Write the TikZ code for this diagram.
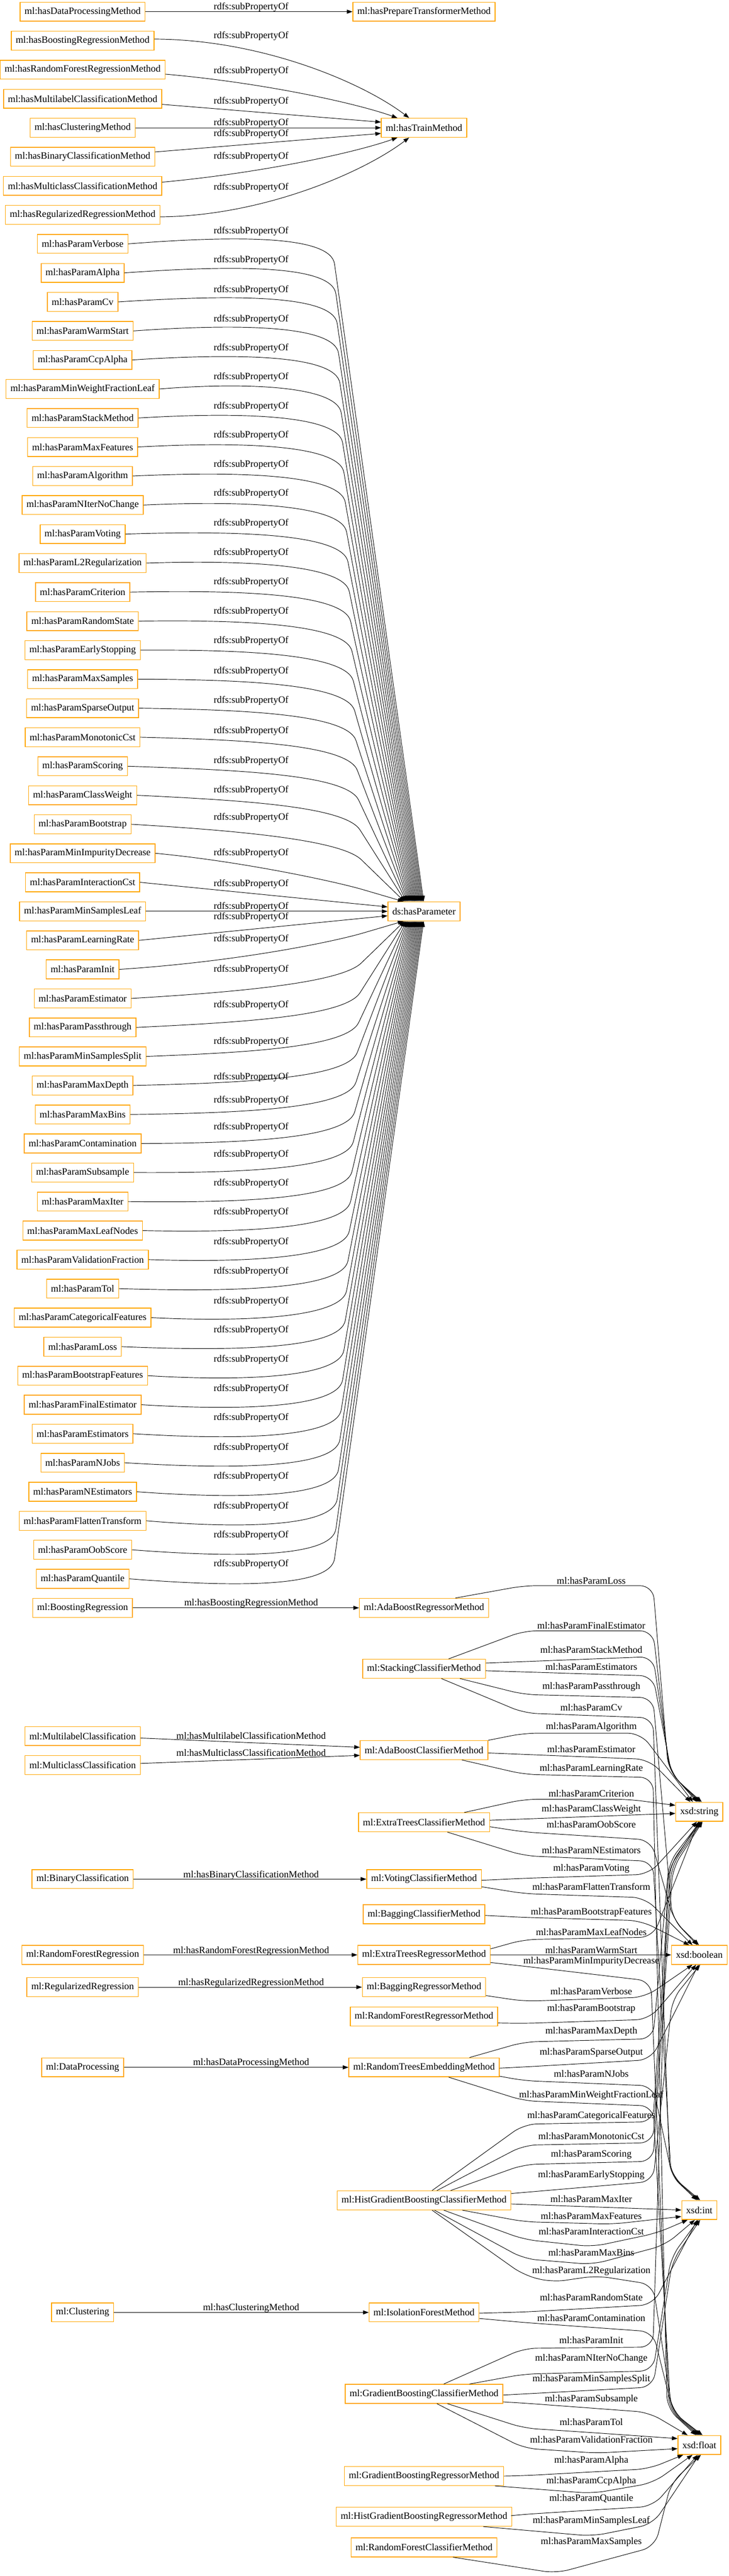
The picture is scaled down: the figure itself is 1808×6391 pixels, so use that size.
\documentclass[tikz,border=0pt]{standalone}
\usepackage{fontspec}
\setmainfont{Liberation Serif}
\usetikzlibrary{arrows.meta,calc}
\definecolor{gvorange}{HTML}{FFA500}
\tikzset{
  box/.style={draw=gvorange, line width=0.9pt, minimum height=23.5pt, inner xsep=5.5pt, inner ysep=2pt, font=\fontsize{12}{14}\selectfont},
  lbl/.style={inner sep=1pt, font=\fontsize{12}{14}\selectfont},
  edge/.style={line width=0.6pt, -{Triangle[length=7pt,width=5pt]}},
  dp/.style={edge, rounded corners=16pt},
}
\begin{document}
\begin{tikzpicture}[x=0.5pt,y=-0.5pt]
\useasboundingbox (0,0) rectangle (1808,6391);

% method properties
\node[box] (dpm) at (205,29) {ml:hasDataProcessingMethod};
\node[box] (ptm) at (1052,29) {ml:hasPrepareTransformerMethod};
\node[box] (brm) at (205,101) {ml:hasBoostingRegressionMethod};
\node[box] (rfm) at (205,173) {ml:hasRandomForestRegressionMethod};
\node[box] (mlm) at (205,245) {ml:hasMultilabelClassificationMethod};
\node[box] (clm) at (205,317) {ml:hasClusteringMethod};
\node[box] (bcm) at (205,389) {ml:hasBinaryClassificationMethod};
\node[box] (mcm) at (205,461) {ml:hasMulticlassClassificationMethod};
\node[box] (rrm) at (205,533) {ml:hasRegularizedRegressionMethod};
\node[box] (trm) at (1052,317) {ml:hasTrainMethod};
\node[box] (hp) at (1052,2261) {ds:hasParameter};

\draw[edge] (dpm) -- (ptm);
\node[lbl] (s0) at (623,18) {rdfs:subPropertyOf};
\draw[edge] ([yshift=2pt]brm.east) .. controls (650,98) and (900,205) .. ([xshift=-18.5pt]trm.north);
\node[lbl] (s1) at (623,89) {rdfs:subPropertyOf};
\draw[edge] ([yshift=-5.5pt]rfm.east) .. controls (650,205) and (880,255) .. ([xshift=-33pt]trm.north);
\node[lbl] (s2) at (623,176) {rdfs:subPropertyOf};
\draw[edge] ([yshift=-7pt]mlm.east) -- ([yshift=7pt]trm.west);
\node[lbl] (s3) at (623,252) {rdfs:subPropertyOf};
\draw[edge] (clm) -- (trm);
\node[lbl] (s4) at (623,306) {rdfs:subPropertyOf};
\draw[edge] ([yshift=6pt]bcm.east) -- ([yshift=-7pt]trm.west);
\node[lbl] (s5) at (623,332) {rdfs:subPropertyOf};
\draw[edge] ([yshift=4.5pt]mcm.east) .. controls (650,429) and (880,379) .. ([xshift=-33pt]trm.south);
\node[lbl] (s6) at (623,388) {rdfs:subPropertyOf};
\draw[edge] ([yshift=-2.5pt]rrm.east) .. controls (650,536) and (900,429) .. ([xshift=-18.5pt]trm.south);
\node[lbl] (s7) at (623,465) {rdfs:subPropertyOf};

% parameter properties
\foreach \r/\nm/\lo in {8/Verbose/-31, 9/Alpha/-31, 10/Cv/-29, 11/WarmStart/-29, 12/CcpAlpha/-29,
  13/MinWeightFractionLeaf/-29, 14/StackMethod/-29, 15/MaxFeatures/-29, 16/Algorithm/-28,
  17/NIterNoChange/-28, 18/Voting/-26, 19/L2Regularization/-26, 20/Criterion/-25, 21/RandomState/-24,
  22/EarlyStopping/-23, 23/MaxSamples/-20, 24/SparseOutput/-19, 25/MonotonicCst/-16, 26/Scoring/-13,
  27/ClassWeight/-12, 28/Bootstrap/-16, 29/MinImpurityDecrease/0, 30/InteractionCst/4,
  31/MinSamplesLeaf/-12, 32/LearningRate/-58, 33/Init/-75, 34/Estimator/-71, 35/Passthrough/-56,
  36/MinSamplesSplit/-37, 37/MaxDepth/-20, 38/MaxBins/-35, 39/Contamination/-41, 40/Subsample/-45,
  41/MaxIter/-45, 42/MaxLeafNodes/-45, 43/ValidationFraction/-44, 44/Tol/-43,
  45/CategoricalFeatures/-41, 46/Loss/-41, 47/BootstrapFeatures/-40, 48/FinalEstimator/-39,
  49/Estimators/-39, 50/NJobs/-37, 51/NEstimators/-38, 52/FlattenTransform/-36, 53/OobScore/-36,
  54/Quantile/-36}{
  \pgfmathsetmacro\yy{29+72*\r}
  \node[box] (p\r) at (205,\yy) {ml:hasParam\nm};
  \node[lbl] (s\r) at (623,{\yy+(\lo)}) {rdfs:subPropertyOf};
  \ifnum\r<30
    \pgfmathsetmacro\u{(29-\r)/21}
    \pgfmathsetmacro\dx{25*\u-25.5}
    \pgfmathsetmacro\cy{\yy-22*\u+20*(1-\u)^3}
    \coordinate (t) at ([xshift=\dx pt]hp.north);
    \coordinate (b) at ({900-70*\u},{\yy+90-40*\u});
    \draw[edge] (p\r.east) .. controls (600,\cy) and ($(b)!-35pt!(t)$) .. (b) -- (t);
  \else\ifnum\r>32
    \pgfmathsetmacro\u{(\r-33)/21}
    \pgfmathsetmacro\dx{25*\u-25.5}
    \pgfmathsetmacro\cy{\yy+22*\u-20*(1-\u)^3}
    \coordinate (t) at ([xshift=\dx pt]hp.south);
    \coordinate (b) at ({900-70*\u},{\yy-90+40*\u});
    \draw[edge] (p\r.east) .. controls (600,\cy) and ($(b)!-35pt!(t)$) .. (b) -- (t);
  \else
    \pgfmathsetmacro\sh{(31-\r)*5.5}
    \draw[edge] (p\r.east) -- ([yshift=\sh pt]hp.west);
  \fi\fi
}

% tasks and methods
\node[box] (boo) at (205,3989) {ml:BoostingRegression};
\node[box] (adar) at (1052,3989) {ml:AdaBoostRegressorMethod};
\node[box] (stk) at (1052,4140) {ml:StackingClassifierMethod};
\node[box] (mlc) at (205,4307) {ml:MultilabelClassification};
\node[box] (mcc) at (205,4379) {ml:MulticlassClassification};
\node[box] (adac) at (1052,4342) {ml:AdaBoostClassifierMethod};
\node[box] (etc) at (1052,4521) {ml:ExtraTreesClassifierMethod};
\node[box] (bin) at (205,4662) {ml:BinaryClassification};
\node[box] (vot) at (1052,4662) {ml:VotingClassifierMethod};
\node[box] (bagc) at (1052,4749) {ml:BaggingClassifierMethod};
\node[box] (rfreg) at (205,4850) {ml:RandomForestRegression};
\node[box] (etr) at (1052,4850) {ml:ExtraTreesRegressorMethod};
\node[box] (regr) at (205,4930) {ml:RegularizedRegression};
\node[box] (bagr) at (1052,4930) {ml:BaggingRegressorMethod};
\node[box] (rfr) at (1052,5003) {ml:RandomForestRegressorMethod};
\node[box] (dpr) at (205,5129) {ml:DataProcessing};
\node[box] (rte) at (1052,5129) {ml:RandomTreesEmbeddingMethod};
\node[box] (hgbc) at (1052,5459) {ml:HistGradientBoostingClassifierMethod};
\node[box] (clu) at (205,5737) {ml:Clustering};
\node[box] (ifo) at (1052,5737) {ml:IsolationForestMethod};
\node[box] (gbc) at (1052,5939) {ml:GradientBoostingClassifierMethod};
\node[box] (gbr) at (1052,6143) {ml:GradientBoostingRegressorMethod};
\node[box] (hgbr) at (1052,6244) {ml:HistGradientBoostingRegressorMethod};
\node[box] (rfc) at (1052,6320) {ml:RandomForestClassifierMethod};
\node[box] (str) at (1735,4495) {xsd:string};
\node[box] (bool) at (1735,4850) {xsd:boolean};
\node[box] (int) at (1735,5483) {xsd:int};
\node[box] (flt) at (1735,6066) {xsd:float};

\draw[edge] (boo) -- (adar);
\node[lbl] (m1) at (623,3978) {ml:hasBoostingRegressionMethod};
\draw[edge] ([yshift=-2.5pt]mlc.east) -- ([yshift=3.5pt]adac.west);
\node[lbl] (m2) at (623,4306) {ml:hasMultilabelClassificationMethod};
\draw[edge] ([yshift=2pt]mcc.east) -- ([yshift=-6.5pt]adac.west);
\node[lbl] (m3) at (623,4348) {ml:hasMulticlassClassificationMethod};
\draw[edge] (bin) -- (vot);
\node[lbl] (m4) at (623,4652) {ml:hasBinaryClassificationMethod};
\draw[edge] (rfreg) -- (etr);
\node[lbl] (m5) at (623,4840) {ml:hasRandomForestRegressionMethod};
\draw[edge] (regr) -- (bagr);
\node[lbl] (m6) at (623,4920) {ml:hasRegularizedRegressionMethod};
\draw[edge] (dpr) -- (rte);
\node[lbl] (m7) at (623,5118) {ml:hasDataProcessingMethod};
\draw[edge] (clu) -- (ifo);
\node[lbl] (m8) at (623,5726) {ml:hasClusteringMethod};

% to xsd:string
\draw[dp] ([xshift=39pt]adar.north) -- (1300,3934) -- (1620,3934) -- (1658,4390) -- ([xshift=-3pt]str.north);
\node[lbl] (lLoss) at (1467,3922) {ml:hasParamLoss};
\draw[dp] ([xshift=30.5pt]stk.north) -- (1300,4046) -- (1620,4046) -- (1661,4395) -- ([xshift=-1pt]str.north);
\node[lbl] (lFinalEstimator) at (1467,4033) {ml:hasParamFinalEstimator};
\draw[dp] ([yshift=7pt]stk.east) -- (1620,4110) -- (1664,4400) -- ([xshift=1pt]str.north);
\node[lbl] (lStackMethod) at (1467,4093) {ml:hasParamStackMethod};
\draw[dp] ([yshift=-2.5pt]stk.east) -- (1620,4158) -- (1667,4405) -- ([xshift=3pt]str.north);
\node[lbl] (lEstimators) at (1467,4135) {ml:hasParamEstimators};
\draw[dp] (adac.north east) -- (1300,4300) -- (1590,4300) -- ([xshift=-8pt]str.north);
\node[lbl] (lAlgorithm) at (1467,4285) {ml:hasParamAlgorithm};
\draw[dp] ([yshift=-3.5pt]adac.east) -- (1610,4365) -- ([xshift=-11pt]str.north);
\node[lbl] (lEstimator) at (1467,4340) {ml:hasParamEstimator};
\draw[dp] ([xshift=50pt]etc.north) -- (1300,4464) -- (1560,4464) -- ([yshift=8pt]str.west);
\node[lbl] (lCriterion) at (1467,4450) {ml:hasParamCriterion};
\draw[edge] ([yshift=2.5pt]etc.east) -- ([yshift=-2pt]str.west);
\node[lbl] (lClassWeight) at (1467,4489) {ml:hasParamClassWeight};
\draw[dp] ([yshift=-1.5pt]vot.east) -- (1300,4660) -- (1610,4650) -- ([xshift=-3pt]str.south);
\node[lbl] (lVoting) at (1467,4636) {ml:hasParamVoting};
\draw[dp] ([yshift=7.5pt]etr.east) -- (1300,4812) -- (1620,4806) -- ([xshift=-1pt]str.south);
\node[lbl] (lMaxLeafNodes) at (1467,4793) {ml:hasParamMaxLeafNodes};
\draw[dp] ([xshift=56.5pt]rte.north) -- (1300,5066) -- (1620,5058) -- (1660,4620) -- ([xshift=1pt]str.south);
\node[lbl] (lMaxDepth) at (1467,5040) {ml:hasParamMaxDepth};
\draw[dp] ([xshift=10pt]hgbc.north) -- (1300,5270) -- (1620,5264) -- (1663,4625) -- ([xshift=2pt]str.south);
\node[lbl] (lCategoricalFeatures) at (1467,5249) {ml:hasParamCategoricalFeatures};
\draw[dp] ([xshift=16pt]hgbc.north) -- (1300,5322) -- (1620,5316) -- (1666,4630) -- ([xshift=3pt]str.south);
\node[lbl] (lMonotonicCst) at (1467,5300) {ml:hasParamMonotonicCst};
\draw[dp] ([xshift=33pt]hgbc.north) -- (1300,5370) -- (1620,5362) -- (1669,4635) -- ([xshift=4pt]str.south);
\node[lbl] (lScoring) at (1467,5345) {ml:hasParamScoring};
\draw[dp] ([xshift=24.5pt]gbc.north) -- (1300,5826) -- (1620,5823) -- (1657,4640) -- (str.south);
\node[lbl] (lInit) at (1467,5806) {ml:hasParamInit};

% to xsd:boolean
\draw[dp] ([xshift=44.5pt]stk.south) -- (1300,4204) -- (1620,4212) -- (1668,4760) -- ([xshift=-2.5pt]bool.north);
\node[lbl] (lPassthrough) at (1467,4185) {ml:hasParamPassthrough};
\draw[dp] ([yshift=-5.5pt]etc.east) -- (1300,4545) -- (1615,4565) -- (1672,4765) -- ([xshift=-0.5pt]bool.north);
\node[lbl] (lOobScore) at (1467,4526) {ml:hasParamOobScore};
\draw[dp] ([yshift=-9.5pt]vot.east) -- (1300,4698) -- (1600,4708) -- ([xshift=-8.5pt]bool.north);
\node[lbl] (lFlattenTransform) at (1467,4681) {ml:hasParamFlattenTransform};
\draw[dp] ([yshift=-1.5pt]bagc.east) -- (1300,4757) -- (1590,4765) -- ([xshift=-12.5pt]bool.north);
\node[lbl] (lBootstrapFeatures) at (1467,4744) {ml:hasParamBootstrapFeatures};
\draw[edge] (etr.east) -- (bool.west);
\node[lbl] (lWarmStart) at (1467,4838) {ml:hasParamWarmStart};
\draw[dp] ([yshift=-10.5pt]bagr.east) -- (1300,4965) -- (1600,4955) -- ([xshift=-8.5pt]bool.south);
\node[lbl] (lVerbose) at (1467,4940) {ml:hasParamVerbose};
\draw[dp] ([yshift=-8pt]rfr.east) -- (1300,5020) -- (1610,5010) -- ([xshift=-4pt]bool.south);
\node[lbl] (lBootstrap) at (1467,4984) {ml:hasParamBootstrap};
\draw[dp] ([yshift=-1pt]rte.east) -- (1300,5128) -- (1615,5110) -- ([xshift=-1pt]bool.south);
\node[lbl] (lSparseOutput) at (1467,5092) {ml:hasParamSparseOutput};
\draw[dp] ([yshift=8.5pt]hgbc.east) -- (1620,5412) -- (1668,4960) -- ([xshift=1pt]bool.south);
\node[lbl] (lEarlyStopping) at (1467,5396) {ml:hasParamEarlyStopping};

% to xsd:int
\draw[dp] ([xshift=21.5pt]stk.south) -- (1300,4250) -- (1620,4262) -- (1662,5395) -- ([xshift=-3pt]int.north);
\node[lbl] (lCv) at (1467,4236) {ml:hasParamCv};
\draw[dp] ([xshift=29pt]etc.south) -- (1300,4604) -- (1620,4618) -- (1665,5398) -- ([xshift=-1pt]int.north);
\node[lbl] (lNEstimators) at (1467,4590) {ml:hasParamNEstimators};
\draw[dp] ([yshift=-11pt]rte.east) -- (1300,5162) -- (1620,5175) -- (1668,5400) -- ([xshift=1pt]int.north);
\node[lbl] (lNJobs) at (1467,5145) {ml:hasParamNJobs};
\draw[edge] ([yshift=-4.5pt]hgbc.east) -- (int.west);
\node[lbl] (lMaxIter) at (1467,5456) {ml:hasParamMaxIter};
\draw[dp] ([xshift=47.5pt]hgbc.south) -- (1300,5512) -- (1520,5518) -- ([yshift=-8pt]int.west);
\node[lbl] (lMaxFeatures) at (1467,5497) {ml:hasParamMaxFeatures};
\draw[dp] ([xshift=24.5pt]hgbc.south) -- (1300,5556) -- (1470,5574) -- (1630,5540) -- ([xshift=-14.5pt]int.south);
\node[lbl] (lInteractionCst) at (1467,5536) {ml:hasParamInteractionCst};
\draw[dp] ([xshift=13pt]hgbc.south) -- (1300,5604) -- (1470,5618) -- (1650,5570) -- ([xshift=-5.5pt]int.south);
\node[lbl] (lMaxBins) at (1467,5589) {ml:hasParamMaxBins};
\draw[dp] ([yshift=-1pt]ifo.east) -- (1300,5736) -- (1620,5718) -- ([xshift=-2.5pt]int.south);
\node[lbl] (lRandomState) at (1467,5700) {ml:hasParamRandomState};
\draw[dp] ([xshift=56.5pt]gbc.north) -- (1300,5890) -- (1620,5882) -- (1665,5600) -- ([xshift=-1pt]int.south);
\node[lbl] (lNIterNoChange) at (1467,5852) {ml:hasParamNIterNoChange};
\draw[dp] ([yshift=-1.5pt]gbc.east) -- (1620,5922) -- (1668,5610) -- ([xshift=1pt]int.south);
\node[lbl] (lMinSamplesSplit) at (1467,5902) {ml:hasParamMinSamplesSplit};

% to xsd:float
\draw[dp] ([xshift=47pt]adac.south) -- (1300,4402) -- (1620,4410) -- (1655,5975) -- ([xshift=-4pt]flt.north);
\node[lbl] (lLearningRate) at (1467,4388) {ml:hasParamLearningRate};
\draw[dp] ([yshift=-9.5pt]etr.east) -- (1300,4878) -- (1615,4915) -- (1660,5978) -- ([xshift=-2pt]flt.north);
\node[lbl] (lMinImpurityDecrease) at (1467,4866) {ml:hasParamMinImpurityDecrease};
\draw[dp] ([xshift=30.5pt]rte.south) -- (1300,5212) -- (1620,5225) -- (1664,5980) -- (flt.north);
\node[lbl] (lMinWeightFractionLeaf) at (1467,5198) {ml:hasParamMinWeightFractionLeaf};
\draw[dp] ([xshift=10pt]hgbc.south) -- (1300,5645) -- (1370,5662) -- (1480,5646) -- (1620,5668) -- (1668,5982) -- ([xshift=2pt]flt.north);
\node[lbl] (lL2Regularization) at (1467,5634) {ml:hasParamL2Regularization};
\draw[dp] ([yshift=-7.5pt]ifo.east) -- (1300,5762) -- (1620,5785) -- (1670,5985) -- ([xshift=4pt]flt.north);
\node[lbl] (lContamination) at (1467,5751) {ml:hasParamContamination};
\draw[dp] ([yshift=-10pt]gbc.east) -- (1300,5962) -- (1610,5985) -- ([xshift=-14.5pt]flt.north);
\node[lbl] (lSubsample) at (1467,5953) {ml:hasParamSubsample};
\draw[dp] ([xshift=29pt]gbc.south) -- (1300,6024) -- (1480,6036) -- ([yshift=8pt]flt.west);
\node[lbl] (lTol) at (1467,6009) {ml:hasParamTol};
\draw[dp] ([xshift=16pt]gbc.south) -- (1300,6074) -- (1480,6086) -- ([yshift=-4.5pt]flt.west);
\node[lbl] (lValidationFraction) at (1467,6053) {ml:hasParamValidationFraction};
\draw[dp] (gbr.east) -- (1300,6142) -- (1610,6125) -- ([xshift=-20pt]flt.south);
\node[lbl] (lAlpha) at (1467,6105) {ml:hasParamAlpha};
\draw[dp] ([xshift=88pt]gbr.south) -- (1470,6186) -- (1620,6160) -- ([xshift=-8.5pt]flt.south);
\node[lbl] (lCcpAlpha) at (1467,6156) {ml:hasParamCcpAlpha};
\draw[dp] ([yshift=1.5pt]hgbr.east) -- (1300,6238) -- (1620,6218) -- ([xshift=-2pt]flt.south);
\node[lbl] (lQuantile) at (1467,6198) {ml:hasParamQuantile};
\draw[dp] ([xshift=73.5pt]hgbr.south) -- (1470,6292) -- (1620,6262) -- (flt.south);
\node[lbl] (lMinSamplesLeaf) at (1467,6254) {ml:hasParamMinSamplesLeaf};
\draw[dp] ([xshift=36pt]rfc.south) -- (1380,6384) -- (1625,6318) -- (1665,6160) -- ([xshift=2pt]flt.south);
\node[lbl] (lMaxSamples) at (1467,6306) {ml:hasParamMaxSamples};

\end{tikzpicture}
\end{document}
